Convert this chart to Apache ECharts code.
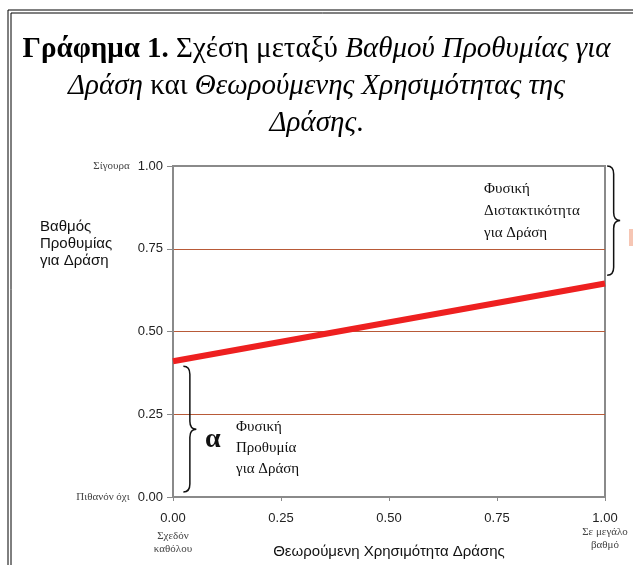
<!DOCTYPE html>
<html>
<head>
<meta charset="utf-8">
<script src="https://cdn.jsdelivr.net/npm/echarts@6/dist/echarts.min.js"></script>
<style>
  html, body { margin: 0; padding: 0; background: #fff; }
  #chart { width: 633px; height: 565px; }
</style>
</head>
<body>
<div id="chart"></div>
<script>
// data
const xValues = [0, 1]
const readiness = [0.41, 0.645]
const xTicks = { 0: '0.00', 0.25: '0.25', 0.5: '0.50', 0.75: '0.75', 1: '1.00' }
const yTicks = { 0: '0.00', 0.25: '0.25', 0.5: '0.50', 0.75: '0.75', 1: '1.00' }
const yEndNotes = { 0: 'Πιθανόν όχι', 1: 'Σίγουρα' }
const xEndNotes = { 0: ['Σχεδόν', 'καθόλου'], 1: ['Σε μεγάλο', 'βαθμό'] }
// brace ranges on the y axis (alpha = natural readiness, right = natural hesitancy)
const alphaRange = [0.015, 0.395]
const hesitRange = [0.67, 1.0]

const serif = '"Liberation Serif", "DejaVu Serif", serif'
const sans = '"Liberation Sans", Arial, sans-serif'

// curly brace opening to the left, tip to the right
echarts.graphic.registerShape('brace', echarts.graphic.extendShape({
  shape: { x: 0, y1: 0, y2: 0, w: 12 },
  buildPath(ctx, shape) {
    const { x, y1, y2, w } = shape
    const m = (y1 + y2) / 2
    const s = x + w / 2
    const r = Math.min(8, (y2 - y1) / 6)
    ctx.moveTo(x, y1)
    ctx.quadraticCurveTo(s, y1, s, y1 + r)
    ctx.lineTo(s, m - r)
    ctx.quadraticCurveTo(s, m, x + w, m)
    ctx.quadraticCurveTo(s, m, s, m + r)
    ctx.lineTo(s, y2 - r)
    ctx.quadraticCurveTo(s, y2, x, y2)
  }
}))

const chart = echarts.init(document.getElementById('chart'))

const titleRich = {
  b: { fontFamily: serif, fontSize: 29, fontWeight: 'bold', lineHeight: 37, color: '#000' },
  n: { fontFamily: serif, fontSize: 29, fontWeight: 'normal', lineHeight: 37, color: '#000' },
  i: { fontFamily: serif, fontSize: 29, fontWeight: 'normal', fontStyle: 'italic', lineHeight: 37, color: '#000' }
}

const option = {
  backgroundColor: '#fff',
  animation: false,
  title: {
    left: 'center',
    top: 31,
    padding: 0,
    text: '{b|Γράφημα 1.} {n|Σχέση μεταξύ} {i|Βαθμού Προθυμίας για}\n' +
          '{i|Δράση} {n|και} {i|Θεωρούμενης Χρησιμότητας της}\n' +
          '{i|Δράσης}{n|.}',
    textStyle: {
      fontFamily: serif,
      fontSize: 29,
      fontWeight: 'normal',
      lineHeight: 37,
      color: '#000',
      rich: titleRich
    }
  },
  grid: {
    left: 173,
    right: 28,
    top: 166,
    bottom: 68,
    outerBoundsMode: 'none',
    containLabel: false,
    show: true,
    borderColor: '#8a8a8a',
    borderWidth: 2
  },
  xAxis: {
    type: 'value',
    min: 0,
    max: 1,
    interval: 0.25,
    name: 'Θεωρούμενη Χρησιμότητα Δράσης',
    nameLocation: 'middle',
    nameGap: 47,
    nameMoveOverlap: false,
    nameTextStyle: { fontFamily: sans, fontSize: 15, color: '#111' },
    axisLine: { show: true, lineStyle: { color: '#8a8a8a', width: 2 } },
    axisTick: { show: true, length: 4, lineStyle: { color: '#8a8a8a' } },
    splitLine: { show: false },
    axisLabel: {
      margin: 14,
      formatter: v => {
        let s = '{v|' + xTicks[v] + '}'
        if (v === 0) s += '\n{g|}\n{s|' + xEndNotes[0][0] + '}\n{s|' + xEndNotes[0][1] + '}'
        if (v === 1) s += '\n{s|' + xEndNotes[1][0] + '}\n{s|' + xEndNotes[1][1] + '}'
        return s
      },
      rich: {
        v: { fontFamily: sans, fontSize: 13, color: '#222', lineHeight: 15 },
        g: { fontSize: 4, lineHeight: 4 },
        s: { fontFamily: serif, fontSize: 11, color: '#444', lineHeight: 13 }
      }
    }
  },
  yAxis: {
    type: 'value',
    min: 0,
    max: 1,
    interval: 0.25,
    axisLine: { show: true, lineStyle: { color: '#8a8a8a', width: 2 } },
    axisTick: { show: true, length: 6, lineStyle: { color: '#8a8a8a' } },
    splitLine: { show: true, showMaxLine: false, showMinLine: false, lineStyle: { color: '#b85a38', width: 1 } },
    axisLabel: {
      margin: 10,
      formatter: v => yEndNotes[v] !== undefined
        ? '{s|' + yEndNotes[v] + '}{v|' + yTicks[v] + '}'
        : '{v|' + yTicks[v] + '}',
      rich: {
        v: { fontFamily: sans, fontSize: 13, color: '#222' },
        s: { fontFamily: serif, fontSize: 11, color: '#444', padding: [0, 8, 0, 0] }
      }
    }
  },
  series: [{
    type: 'line',
    data: xValues.map((x, i) => [x, readiness[i]]),
    symbol: 'none',
    lineStyle: { color: '#ee2020', width: 6 },
    z: 5
  }]
}

chart.setOption(option)

const pA1 = chart.convertToPixel({ gridIndex: 0 }, [0.024, alphaRange[1]])
const pA2 = chart.convertToPixel({ gridIndex: 0 }, [0.024, alphaRange[0]])
const pH1 = chart.convertToPixel({ gridIndex: 0 }, [1.005, hesitRange[1]])
const pH2 = chart.convertToPixel({ gridIndex: 0 }, [1.005, hesitRange[0]])

chart.setOption({
  graphic: [
    // outer double frame
    { type: 'rect', shape: { x: 8, y: 10, width: 640, height: 580 }, style: { fill: 'none', stroke: '#000', lineWidth: 1 } },
    { type: 'rect', shape: { x: 11, y: 13, width: 640, height: 580 }, style: { fill: 'none', stroke: '#000', lineWidth: 1 } },
    // cut-off marker at right edge
    { type: 'rect', shape: { x: 629, y: 229, width: 10, height: 17 }, style: { fill: '#f6c6b4' } },
    // braces
    { type: 'brace', shape: { x: pA1[0], y1: pA1[1], y2: pA2[1], w: 13 }, style: { fill: 'none', stroke: '#111', lineWidth: 1.5 } },
    { type: 'brace', shape: { x: pH1[0], y1: pH1[1], y2: pH2[1], w: 13 }, style: { fill: 'none', stroke: '#111', lineWidth: 1.5 } },
    // y axis title
    { type: 'text', left: 40, top: 218, style: { text: 'Βαθμός\nΠροθυμίας\nγια Δράση', font: '15px ' + sans, lineHeight: 17, fill: '#111' } },
    // annotations
    { type: 'text', left: 205, top: 426, style: { text: 'α', font: 'bold 28px ' + serif, fill: '#111' } },
    { type: 'text', left: 236, top: 417, style: { text: 'Φυσική\nΠροθυμία\nγια Δράση', font: '15px ' + serif, lineHeight: 21, fill: '#111' } },
    { type: 'text', left: 484, top: 178, style: { text: 'Φυσική\nΔιστακτικότητα\nγια Δράση', font: '15px ' + serif, lineHeight: 22, fill: '#111' } }
  ]
})
</script>
</body>
</html>
